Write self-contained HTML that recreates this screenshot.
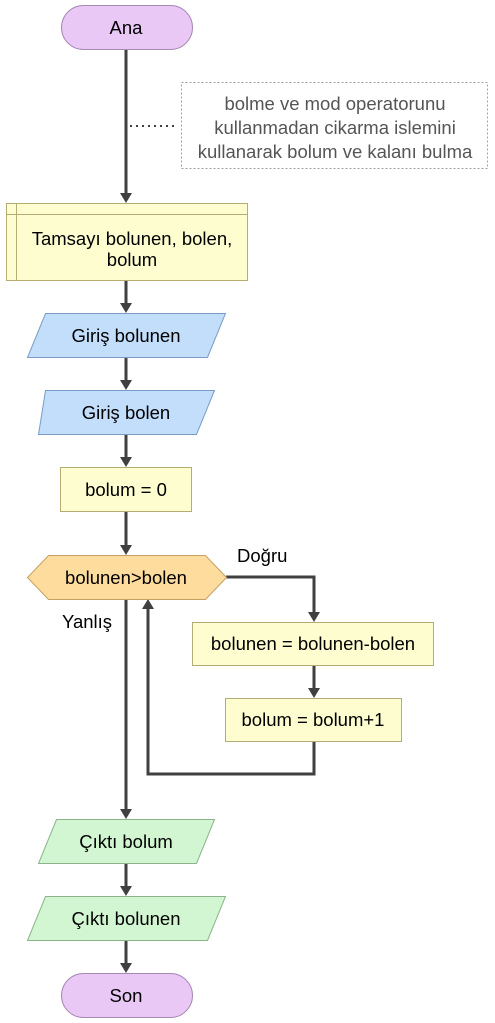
<!DOCTYPE html>
<html><head><meta charset="utf-8"><style>body{margin:0;background:#fff}svg{display:block}text{font-family:"Liberation Sans",sans-serif;font-size:18.5px;fill:#000}</style></head><body>
<svg width="495" height="1023" viewBox="0 0 495 1023">
<g stroke="#404040" stroke-width="3" fill="none">
<line x1="126" y1="49" x2="126" y2="194"/>
<line x1="126" y1="280" x2="126" y2="304"/>
<line x1="126" y1="357" x2="126" y2="381"/>
<line x1="126" y1="434" x2="126" y2="458"/>
<line x1="126" y1="511" x2="126" y2="546"/>
<line x1="126" y1="599" x2="126" y2="810"/>
<polyline points="226,577 314,577 314,613"/>
<line x1="314" y1="665" x2="314" y2="689"/>
<polyline points="314,742 314,774 148,774 148,608"/>
<line x1="126" y1="863" x2="126" y2="887"/>
<line x1="126" y1="940" x2="126" y2="964"/>
</g>
<g fill="#404040">
<path d="M120,193 L132,193 L126,203 Z"/><path d="M120,303 L132,303 L126,313 Z"/><path d="M120,380 L132,380 L126,390 Z"/><path d="M120,457 L132,457 L126,467 Z"/><path d="M120,545 L132,545 L126,555 Z"/><path d="M308,612 L320,612 L314,622 Z"/><path d="M308,688 L320,688 L314,698 Z"/><path d="M142,609 L154,609 L148,599 Z"/><path d="M120,809 L132,809 L126,819 Z"/><path d="M120,886 L132,886 L126,896 Z"/><path d="M120,963 L132,963 L126,973 Z"/>
</g>
<line x1="130" y1="126" x2="176" y2="126" stroke="#404040" stroke-width="2" stroke-dasharray="2,4"/>
<rect x="181.5" y="82.5" width="306" height="86" fill="#fff" stroke="#a0a0a0" stroke-dasharray="2,2"/>
<g text-anchor="middle" style="font-size:18.5px"><text x="335" y="110" style="fill:#555">bolme ve mod operatorunu</text><text x="335" y="134" style="fill:#555">kullanmadan cikarma islemini</text><text x="335" y="158" style="fill:#555">kullanarak bolum ve kalanı bulma</text></g>
<rect x="61.5" y="5.5" width="131" height="44" rx="22" fill="#eac8f6" stroke="#a688b4"/>
<text x="126" y="34" text-anchor="middle">Ana</text>
<rect x="6.5" y="203.5" width="241" height="77" fill="#fefdd0" stroke="#b4ac72"/>
<line x1="16.5" y1="203" x2="16.5" y2="280" stroke="#b4ac72"/><line x1="6" y1="214.5" x2="248" y2="214.5" stroke="#b4ac72"/>
<text x="132" y="245" text-anchor="middle">Tamsayı bolunen, bolen,</text><text x="132" y="266" text-anchor="middle">bolum</text>
<polygon points="45.5,313.5 225.5,313.5 207.5,357.5 27.5,357.5" fill="#c2defa" stroke="#7a9cc4"/>
<text x="126" y="342" text-anchor="middle">Giriş bolunen</text>
<polygon points="45.5,390.5 214.5,390.5 196.5,434.5 38.5,434.5" fill="#c2defa" stroke="#7a9cc4"/>
<text x="126" y="419" text-anchor="middle">Giriş bolen</text>
<rect x="60.5" y="467.5" width="131" height="44" fill="#fefdd0" stroke="#b4ac72"/>
<text x="126" y="496" text-anchor="middle">bolum = 0</text>
<polygon points="48.5,555.5 205.5,555.5 226.5,577.5 205.5,599.5 48.5,599.5 27.5,577.5" fill="#fedc9e" stroke="#c4a062"/>
<text x="126" y="584" text-anchor="middle">bolunen&gt;bolen</text>
<text x="237" y="562">Doğru</text>
<text x="62" y="628">Yanlış</text>
<rect x="192.5" y="622.5" width="241" height="43" fill="#fefdd0" stroke="#b4ac72"/>
<text x="313" y="650" text-anchor="middle">bolunen = bolunen-bolen</text>
<rect x="225.5" y="698.5" width="176" height="43" fill="#fefdd0" stroke="#b4ac72"/>
<text x="313" y="726" text-anchor="middle">bolum = bolum+1</text>
<polygon points="56.5,819.5 214.5,819.5 196.5,863.5 38.5,863.5" fill="#d2f6d2" stroke="#8ab48a"/>
<text x="126" y="848" text-anchor="middle">Çıktı bolum</text>
<polygon points="45.5,896.5 225.5,896.5 207.5,940.5 27.5,940.5" fill="#d2f6d2" stroke="#8ab48a"/>
<text x="126" y="925" text-anchor="middle">Çıktı bolunen</text>
<rect x="61.5" y="973.5" width="131" height="44" rx="22" fill="#eac8f6" stroke="#a688b4"/>
<text x="126" y="1002" text-anchor="middle">Son</text>
</svg>
</body></html>
